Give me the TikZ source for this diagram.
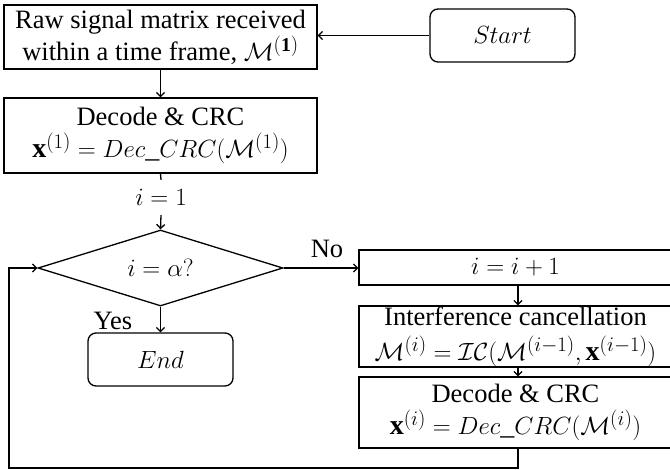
\documentclass[tikz,border=0pt]{standalone}
\usepackage{amsmath}
\usepackage{fontspec}
\setmainfont{Liberation Serif}
\usetikzlibrary{shapes.geometric,arrows.meta}
\newcommand{\mth}[1]{{\fontsize{28}{32}\selectfont$#1$}}
\begin{document}
\begin{tikzpicture}[x=1pt,y=-1pt,
  every node/.style={font=\fontsize{26.5}{32}\selectfont, inner sep=0pt},
  box/.style={draw, line width=1.3pt, align=center},
  term/.style={draw, line width=1.3pt, rounded corners=8pt, minimum width=145pt, minimum height=53pt},
  decision/.style={draw, line width=1.3pt, diamond, aspect=3.2, minimum width=245pt, minimum height=76pt},
  conn/.style={line width=1.3pt},
  arr/.style={line width=1.3pt, -{Straight Barb[length=4pt,width=8pt]}}
]
\useasboundingbox (0,0) rectangle (670,470);

\node[box, minimum width=313pt, minimum height=64pt] (raw) at (160.5,37)
  {Raw signal matrix received\\within a time frame, \mth{\mathcal{M}^{\mathbf{(1)}}}};
\node[term] (start) at (502.5,35.5) {\mth{Start}};
\node[box, minimum width=313pt, minimum height=75pt] (dec1) at (160.5,135.5)
  {Decode \& CRC\\\mth{\mathbf{x}^{(1)}=Dec\_CRC(\mathcal{M}^{(1)})}};
\node[minimum height=35pt] (init) at (161,197.5) {\mth{i=1}};
\node[decision] (cond) at (160.5,268) {\mth{i=\alpha?}};
\node[term] (end) at (160.5,359.5) {\mth{End}};
\node (yes) at (113,321) {Yes};
\node (no) at (327,249) {No};
\node[box, minimum width=313pt, minimum height=35pt] (inc) at (515.5,267.5) {\mth{i=i+1}};
\node[box, minimum width=313pt, minimum height=61pt] (ic) at (515.5,336.5)
  {Interference cancellation\\[3pt]\mth{\mathcal{M}^{(i)}=\mathcal{IC}(\mathcal{M}^{(i-1)},\mathbf{x}^{(i-1)})}};
\node[box, minimum width=313pt, minimum height=71pt] (deci) at (515.5,412.5)
  {Decode \& CRC\\\mth{\mathbf{x}^{(i)}=Dec\_CRC(\mathcal{M}^{(i)})}};

\coordinate (c1) at (518,468);
\coordinate (c2) at (9,468);
\coordinate (c3) at (9,268);

\draw[arr] (start.west) -- (raw.east |- start.west);
\draw[arr] (raw.south) -- (dec1.north);
\draw[conn] (dec1.south) -- (init.north);
\draw[arr] (init.south) -- (cond.north);
\draw[arr] (cond.south) -- (end.north);
\draw[arr] (cond.east) -- (inc.west |- cond.east);
\draw[arr] (inc.south -| c1) -- (ic.north -| c1);
\draw[arr] (ic.south -| c1) -- (deci.north -| c1);
\draw[arr] (deci.south -| c1) -- (c1) -- (c2) -- (c3) -- (cond.west);
\end{tikzpicture}
\end{document}
